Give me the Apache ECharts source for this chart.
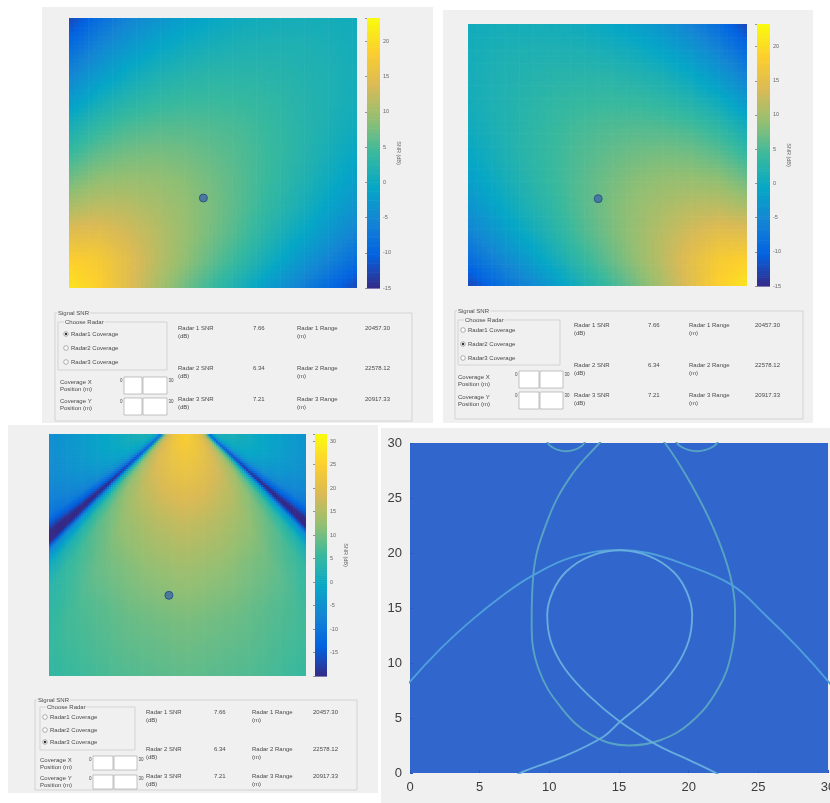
<!DOCTYPE html>
<html>
<head>
<meta charset="utf-8">
<title>Radar SNR coverage</title>
<script src="https://cdn.jsdelivr.net/npm/echarts/dist/echarts.min.js"></script>
<style>
  html, body { margin: 0; padding: 0; background: #ffffff; }
  #chart { width: 830px; height: 803px; }
</style>
</head>
<body>
<div id="chart"></div>
<script>
// ---------- data ----------
// grid node positions (m), shared by x (left to right) and y (rows listed from 30 m down to 0 m)
const nodeCoords = [0, 3, 6, 9, 12, 15, 18, 21, 24, 27, 30];

// Radar 1 coverage, SNR in dB at each node (top row first)
const snrRadar1 = [
  [-12.7, -8.8, -5.8, -3.5, -1.8, -0.6, 0.3, 0.7, 0.9, 0.8, 0.4],
  [-9.3, -5.7, -3.0, -1.1, 0.3, 1.1, 1.6, 1.8, 1.7, 1.4, 0.8],
  [-5.9, -2.7, -0.3, 1.4, 2.2, 2.8, 2.8, 2.6, 2.2, 1.7, 0.9],
  [-2.6, 0.4, 2.3, 3.4, 4.0, 4.1, 3.9, 3.4, 2.6, 1.8, 0.7],
  [1.0, 3.5, 5.0, 5.6, 5.7, 5.4, 4.9, 3.9, 2.8, 1.6, 0.3],
  [4.0, 6.2, 7.3, 7.6, 7.2, 6.4, 5.4, 4.1, 2.8, 1.1, -0.6],
  [7.2, 9.0, 9.4, 9.2, 8.5, 7.2, 5.7, 4.0, 2.2, 0.3, -1.8],
  [10.7, 11.8, 11.6, 10.5, 9.2, 7.6, 5.6, 3.4, 1.4, -1.1, -3.5],
  [14.8, 15.0, 13.5, 11.6, 9.4, 7.3, 5.0, 2.3, -0.3, -3.0, -5.8],
  [18.7, 17.8, 15.0, 11.8, 9.0, 6.2, 3.5, 0.4, -2.7, -5.7, -8.8],
  [20.9, 18.7, 14.8, 10.7, 7.2, 4.0, 1.0, -2.6, -5.9, -9.3, -12.7]
];

// Radar 2 coverage, SNR in dB at each node (top row first)
const snrRadar2 = [
  [0.4, 0.8, 0.9, 0.7, 0.3, -0.6, -1.8, -3.5, -5.8, -8.8, -12.7],
  [0.8, 1.4, 1.7, 1.8, 1.6, 1.1, 0.3, -1.1, -3.0, -5.7, -9.3],
  [0.9, 1.7, 2.2, 2.6, 2.8, 2.8, 2.2, 1.4, -0.3, -2.7, -5.9],
  [0.7, 1.8, 2.6, 3.4, 3.9, 4.1, 4.0, 3.4, 2.3, 0.4, -2.6],
  [0.3, 1.6, 2.8, 3.9, 4.9, 5.4, 5.7, 5.6, 5.0, 3.5, 1.0],
  [-0.6, 1.1, 2.8, 4.1, 5.4, 6.4, 7.2, 7.6, 7.3, 6.2, 4.0],
  [-1.8, 0.3, 2.2, 4.0, 5.7, 7.2, 8.5, 9.2, 9.4, 9.0, 7.2],
  [-3.5, -1.1, 1.4, 3.4, 5.6, 7.6, 9.2, 10.5, 11.6, 11.8, 10.7],
  [-5.8, -3.0, -0.3, 2.3, 5.0, 7.3, 9.4, 11.6, 13.5, 15.0, 14.8],
  [-8.8, -5.7, -2.7, 0.4, 3.5, 6.2, 9.0, 11.8, 15.0, 17.8, 18.7],
  [-12.7, -9.3, -5.9, -2.6, 1.0, 4.0, 7.2, 10.7, 14.8, 18.7, 20.9]
];

// Radar 3 coverage, sampled on range rings (m) and beam angles (deg from boresight)
const radar3Position = [15.9, 32.7];
const beamRanges = [2, 8, 14, 20, 26, 32, 38];
const beamAngles = [-90, -75, -62, -55, -51, -48, -45.5, -43, -40, -36, -28, -14, 0, 14, 28, 36, 40, 43, 45.5, 48, 51, 55, 62, 75, 90];
const snrRadar3 = [
  [4.2, 4.7, 4.7, 3.7, 1.6, -4.6, -13.3, 6.8, 15.0, 19.1, 22.2, 24.3, 25.3, 24.3, 22.2, 19.1, 15.0, 6.8, -13.3, -4.6, 1.6, 3.7, 4.7, 4.7, 4.2],
  [0.1, 0.6, 0.6, -0.4, -2.5, -8.7, -17.4, 2.7, 10.9, 15.0, 18.1, 20.2, 21.2, 20.2, 18.1, 15.0, 10.9, 2.7, -17.4, -8.7, -2.5, -0.4, 0.6, 0.6, 0.1],
  [-4.6, -4.0, -4.0, -5.1, -7.1, -13.3, -22.1, -2.0, 6.3, 10.4, 13.5, 15.5, 16.6, 15.5, 13.5, 10.4, 6.3, -2.0, -22.1, -13.3, -7.1, -5.1, -4.0, -4.0, -4.6],
  [-8.2, -7.6, -7.6, -8.7, -10.7, -16.9, -25.7, -5.6, 2.7, 6.8, 9.9, 11.9, 13.0, 11.9, 9.9, 6.8, 2.7, -5.6, -25.7, -16.9, -10.7, -8.7, -7.6, -7.6, -8.2],
  [-10.7, -10.2, -10.2, -11.2, -13.3, -19.5, -28.2, -8.2, 0.1, 4.2, 7.3, 9.4, 10.4, 9.4, 7.3, 4.2, 0.1, -8.2, -28.2, -19.5, -13.3, -11.2, -10.2, -10.2, -10.7],
  [-12.3, -11.8, -11.8, -12.8, -14.9, -21.0, -29.8, -9.7, -1.5, 2.7, 5.8, 7.8, 8.8, 7.8, 5.8, 2.7, -1.5, -9.7, -29.8, -21.0, -14.9, -12.8, -11.8, -11.8, -12.3],
  [-13.8, -13.3, -13.3, -14.3, -16.4, -22.6, -31.3, -11.2, -3.0, 1.1, 4.2, 6.3, 7.3, 6.3, 4.2, 1.1, -3.0, -11.2, -31.3, -22.6, -16.4, -14.3, -13.3, -13.3, -13.8]
];

// colour bar limits (dB) and labelled ticks
const colorRange12 = [-15, 23.3];
const colorTicks12 = [-15, -10, -5, 0, 5, 10, 15, 20];
const colorRange3 = [-20, 31.5];
const colorTicks3 = [-15, -10, -5, 0, 5, 10, 15, 20, 25, 30];

// selected coverage point (m)
const coveragePosition = [14, 10];

// coverage contours (x, y in m)
const contourRadar3 = [[15.9, 32.5], [14.6, 31.3], [13.6, 30.0], [11.6, 27.1], [9.93, 23.15], [8.85, 18.0], [8.73, 13.75], [9.21, 9.52], [10.89, 5.88], [13.04, 3.45], [15.7, 2.5], [18.0, 3.0], [20.2, 4.66], [22.13, 7.7], [23.09, 11.03], [23.33, 14.66], [22.97, 18.0], [21.9, 21.9], [20.2, 26.2], [18.3, 30.0], [17.2, 31.3], [15.9, 32.5]];
const sidelobeLeft = [[9.7, 30.6], [10.1, 29.7], [11.2, 29.25], [12.3, 29.7], [12.7, 30.6]];
const sidelobeRight = [[18.9, 30.6], [19.4, 29.7], [20.6, 29.25], [21.8, 29.7], [22.3, 30.6]];
const contourArch = [[-2, 5.1], [0, 8.3], [2.2, 11.3], [4.43, 13.9], [6.6, 16.1], [8.73, 17.9], [11.6, 19.6], [15.07, 20.27], [17.1, 20.0], [19.5, 19.06], [23.09, 17.1], [25.5, 14.36], [27.9, 11.33], [30.03, 8.3], [32, 5.1]];
const contourLoop = [[23.2, -1], [21.77, 0.12], [19.5, 1.48], [17.71, 2.55], [15.07, 4.66], [12.92, 6.94], [11.1, 9.5], [10.1, 12.0], [9.85, 14.4], [10.25, 16.5], [11.2, 18.3], [12.9, 19.7], [15.07, 20.25], [17.2, 19.7], [18.9, 18.3], [19.85, 16.5], [20.25, 14.4], [20.0, 12.0], [19.0, 9.5], [17.2, 6.94], [15.07, 4.66], [13.88, 3.3], [11.0, 1.48], [8.13, 0.12], [6.6, -1]];

// texts of the control panel
const radioLabels = ['Radar1 Coverage', 'Radar2 Coverage', 'Radar3 Coverage'];
const coverageLabels = [['Coverage X', 'Position (m)'], ['Coverage Y', 'Position (m)']];
const snrLabels = ['Radar 1 SNR', 'Radar 2 SNR', 'Radar 3 SNR'];
const rangeLabels = ['Radar 1 Range', 'Radar 2 Range', 'Radar 3 Range'];
const snrValues = ['7.66', '6.34', '7.21'];
const rangeValues = ['20457.30', '22578.12', '20917.33'];
const axisTicks = [0, 5, 10, 15, 20, 25, 30];

// ---------- colour map ----------
const parulaStops = ['#352a87', '#0363e1', '#1485d4', '#06a7c6', '#38b99e', '#92bf73', '#d9ba56', '#fcce2e', '#f9fb0e'];
const parulaRgb = parulaStops.map(h => [1, 3, 5].map(o => parseInt(h.slice(o, o + 2), 16)));
function snrColor(v, range) {
  let t = (v - range[0]) / (range[1] - range[0]);
  t = Math.min(1, Math.max(0, t));
  const s = t * (parulaRgb.length - 1);
  const k = Math.min(parulaRgb.length - 2, Math.floor(s));
  const f = s - k;
  const a = parulaRgb[k], b = parulaRgb[k + 1];
  return 'rgb(' + Math.round(a[0] + (b[0] - a[0]) * f) + ',' + Math.round(a[1] + (b[1] - a[1]) * f) + ',' + Math.round(a[2] + (b[2] - a[2]) * f) + ')';
}

// ---------- renderers ----------
const SUB = 6;
function nodeGridItems() {
  const items = [];
  const last = nodeCoords.length - 1;
  for (let j = 0; j < last; j++) {
    for (let i = 0; i < last; i++) {
      items.push([(nodeCoords[i] + nodeCoords[i + 1]) / 2, (nodeCoords[last - j] + nodeCoords[last - j - 1]) / 2, i, j]);
    }
  }
  return items;
}
function nodeGridRenderer(rows, range) {
  const last = nodeCoords.length - 1;
  return function (params, api) {
    const i = api.value(2), j = api.value(3);
    const x0 = nodeCoords[i], x1 = nodeCoords[i + 1];
    const yT = nodeCoords[last - j], yB = nodeCoords[last - j - 1];
    const vTL = rows[j][i], vTR = rows[j][i + 1], vBL = rows[j + 1][i], vBR = rows[j + 1][i + 1];
    const children = [];
    for (let a = 0; a < SUB; a++) {
      for (let b = 0; b < SUB; b++) {
        const u = (a + 0.5) / SUB, w = (b + 0.5) / SUB;
        const v = (1 - u) * (1 - w) * vTL + u * (1 - w) * vTR + (1 - u) * w * vBL + u * w * vBR;
        const p0 = api.coord([x0 + (x1 - x0) * a / SUB, yT + (yB - yT) * b / SUB]);
        const p1 = api.coord([x0 + (x1 - x0) * (a + 1) / SUB, yT + (yB - yT) * (b + 1) / SUB]);
        children.push({
          type: 'rect',
          shape: { x: p0[0], y: p0[1], width: p1[0] - p0[0] + 0.6, height: p1[1] - p0[1] + 0.6 },
          style: { fill: snrColor(v, range) }
        });
      }
    }
    const cs = params.coordSys;
    return { type: 'group', children, clipPath: { type: 'rect', shape: { x: cs.x, y: cs.y, width: cs.width, height: cs.height } } };
  };
}

// radar 3 map: raster cells, each coloured from the range/angle table
const BEAM_STEP = 0.25;
function beamCellItems() {
  const items = [];
  const n = Math.round(30 / BEAM_STEP);
  for (let iy = 0; iy < n; iy++) {
    for (let ix = 0; ix < n; ix++) items.push([(ix + 0.5) * BEAM_STEP, (iy + 0.5) * BEAM_STEP]);
  }
  return items;
}
function bracket(list, v) {
  let k = 0;
  while (k < list.length - 2 && v > list[k + 1]) k++;
  const f = Math.min(1, Math.max(0, (v - list[k]) / (list[k + 1] - list[k])));
  return [k, f];
}
function beamValue(x, y) {
  const dx = x - radar3Position[0], dy = radar3Position[1] - y;
  const r = Math.sqrt(dx * dx + dy * dy);
  const deg = Math.atan2(dx, dy) * 180 / Math.PI;
  const [k, u] = bracket(beamRanges, r);
  const [a, w] = bracket(beamAngles, deg);
  return (1 - u) * (1 - w) * snrRadar3[k][a] + (1 - u) * w * snrRadar3[k][a + 1] + u * (1 - w) * snrRadar3[k + 1][a] + u * w * snrRadar3[k + 1][a + 1];
}
function beamRenderer(params, api) {
  const x = api.value(0), y = api.value(1), h = BEAM_STEP / 2;
  const p0 = api.coord([x - h, y + h]), p1 = api.coord([x + h, y - h]);
  return {
    type: 'rect',
    shape: { x: p0[0], y: p0[1], width: p1[0] - p0[0] + 0.6, height: p1[1] - p0[1] + 0.6 },
    style: { fill: snrColor(beamValue(x, y), colorRange3) }
  };
}

function colorBarRenderer(range) {
  return function (params, api) {
    const n = 120, children = [];
    for (let s = 0; s < n; s++) {
      const va = range[0] + (range[1] - range[0]) * s / n;
      const vb = range[0] + (range[1] - range[0]) * (s + 1) / n;
      const pa = api.coord([0, va]), pb = api.coord([1, vb]);
      children.push({
        type: 'rect',
        shape: { x: pa[0], y: pb[1], width: pb[0] - pa[0], height: pa[1] - pb[1] + 0.6 },
        style: { fill: snrColor((va + vb) / 2, range) }
      });
    }
    return { type: 'group', children };
  };
}

// ---------- layout ----------
const FONT = '"Liberation Sans", Arial, sans-serif';
const mapGrids = [
  { left: 69, top: 18, width: 288, height: 270 },
  { left: 468, top: 24, width: 279, height: 262 },
  { left: 49, top: 434, width: 257, height: 242 }
];
const barGrids = [
  { left: 367, top: 18, width: 13, height: 270 },
  { left: 757, top: 24, width: 13, height: 262 },
  { left: 315, top: 434, width: 12, height: 242 }
];
const plotGrid = { left: 410, top: 443, width: 418, height: 330, show: true, backgroundColor: '#3166cc', borderWidth: 0 };

const panels = [
  { bg: [42, 7, 391, 416], frame: [55, 313, 357, 108], chooser: [58, 322, 109, 48], radioX: 66, radioYs: [334, 348, 362],
    coverX: 60, coverYs: [382, 401], spin: { x: 124, w: 43, div: 142, ys: [377, 398], h: 17 },
    table: { lx: 178, vx: 253, rlx: 297, rvx: 365, ys: [328, 368, 399] }, selected: 0 },
  { bg: [443, 10, 370, 413], frame: [455, 311, 348, 108], chooser: [458, 320, 102, 45], radioX: 463, radioYs: [330, 344, 358],
    coverX: 458, coverYs: [377, 397], spin: { x: 519, w: 44, div: 539, ys: [371, 392], h: 17 },
    table: { lx: 574, vx: 648, rlx: 689, rvx: 755, ys: [325, 365, 395] }, selected: 1 },
  { bg: [8, 425, 370, 368], frame: [35, 700, 322, 90], chooser: [40, 707, 95, 43], radioX: 45, radioYs: [717, 730, 742],
    coverX: 40, coverYs: [760, 778], spin: { x: 93, w: 44, div: 113, ys: [756, 775], h: 14 },
    table: { lx: 146, vx: 214, rlx: 252, rvx: 313, ys: [712, 749, 776] }, selected: 2 }
];

function panelElements(L) {
  const els = [];
  const text = (x, y, s, extra) => els.push({
    type: 'text', x, y, z: 3, silent: true,
    style: Object.assign({ text: s, fill: '#4a4a4a', fontSize: 6, fontFamily: FONT, align: 'left', verticalAlign: 'middle' }, extra || {})
  });
  const rect = (r, style, z) => els.push({ type: 'rect', z, silent: true, shape: { x: r[0], y: r[1], width: r[2], height: r[3] }, style });
  rect(L.bg, { fill: '#f0f0f0' }, -10);
  rect(L.frame, { fill: 'none', stroke: '#d3d3d3', lineWidth: 1 }, 1);
  text(L.frame[0] + 2, L.frame[1], 'Signal SNR', { backgroundColor: '#f0f0f0', padding: [0, 1] });
  rect(L.chooser, { fill: 'none', stroke: '#d3d3d3', lineWidth: 1 }, 1);
  text(L.chooser[0] + 6, L.chooser[1], 'Choose Radar', { backgroundColor: '#f0f0f0', padding: [0, 1] });
  radioLabels.forEach((lab, k) => {
    els.push({ type: 'circle', z: 3, silent: true, shape: { cx: L.radioX, cy: L.radioYs[k], r: 2.3 }, style: { fill: '#ffffff', stroke: '#8c8c8c', lineWidth: 0.7 } });
    if (k === L.selected) {
      els.push({ type: 'circle', z: 4, silent: true, shape: { cx: L.radioX, cy: L.radioYs[k], r: 1.2 }, style: { fill: '#303030' } });
    }
    text(L.radioX + 5, L.radioYs[k], lab);
  });
  coverageLabels.forEach((lines, k) => {
    text(L.coverX, L.coverYs[k], lines[0]);
    text(L.coverX, L.coverYs[k] + 7.5, lines[1]);
    const s = L.spin, y = s.ys[k];
    rect([s.x, y, s.div - s.x, s.h], { fill: '#ffffff', stroke: '#a9a9a9', lineWidth: 0.7 }, 2);
    rect([s.div + 1, y, s.x + s.w - s.div - 1, s.h], { fill: '#ffffff', stroke: '#a9a9a9', lineWidth: 0.7 }, 2);
    text(s.x - 1.5, y + 4, '0', { align: 'right', fontSize: 4.5 });
    text(s.x + s.w + 1.5, y + 4, '30', { fontSize: 4.5 });
  });
  snrLabels.forEach((lab, k) => {
    const y = L.table.ys[k];
    text(L.table.lx, y, lab);
    text(L.table.lx, y + 8, '(dB)');
    text(L.table.vx, y, snrValues[k]);
    text(L.table.rlx, y, rangeLabels[k]);
    text(L.table.rlx, y + 8, '(m)');
    text(L.table.rvx, y, rangeValues[k]);
  });
  return els;
}

const graphicElements = [];
panels.forEach(p => graphicElements.push(...panelElements(p)));
graphicElements.push({ type: 'rect', z: -10, silent: true, shape: { x: 381, y: 428, width: 449, height: 375 }, style: { fill: '#f0f0f0' } });

// ---------- axes ----------
const grids = [].concat(mapGrids, barGrids, [plotGrid]).map(g => Object.assign({ outerBoundsMode: 'none', containLabel: false }, g));
const xAxes = [], yAxes = [];
mapGrids.forEach((g, n) => {
  xAxes.push({ gridIndex: n, type: 'value', min: 0, max: 30, show: false });
  yAxes.push({ gridIndex: n, type: 'value', min: 0, max: 30, show: false });
});
const barRanges = [colorRange12, colorRange12, colorRange3];
const barTicks = [colorTicks12, colorTicks12, colorTicks3];
barGrids.forEach((g, n) => {
  const gi = mapGrids.length + n;
  xAxes.push({ gridIndex: gi, type: 'value', min: 0, max: 1, show: false });
  yAxes.push({
    gridIndex: gi, type: 'value', min: barRanges[n][0], max: barRanges[n][1], interval: 5, position: 'right',
    axisLine: { show: false }, splitLine: { show: false },
    axisTick: { show: true, inside: true, length: 2, lineStyle: { color: '#555555', width: 0.6 } },
    axisLabel: { fontSize: 5.5, color: '#666666', fontFamily: FONT, margin: 3, formatter: v => (barTicks[n].indexOf(v) >= 0 ? String(v) : '') },
    name: 'SNR (dB)', nameLocation: 'middle', nameGap: 16, nameRotate: -90,
    nameTextStyle: { fontSize: 5.5, color: '#666666', fontFamily: FONT }
  });
});
const plotIndex = grids.length - 1;
[xAxes, yAxes].forEach(list => list.push({
  gridIndex: plotIndex, type: 'value', min: axisTicks[0], max: axisTicks[axisTicks.length - 1], interval: 5,
  axisLine: { show: false }, splitLine: { show: false },
  axisTick: { show: true, inside: true, length: 3, lineStyle: { color: '#2b58b8' } },
  axisLabel: { fontSize: 13, color: '#3c3c3c', fontFamily: FONT, margin: 8 }
}));

// ---------- series ----------
const series = [];
const mapRows = [snrRadar1, snrRadar2];
[0, 1].forEach(n => {
  series.push({ type: 'custom', silent: true, xAxisIndex: n, yAxisIndex: n, renderItem: nodeGridRenderer(mapRows[n], colorRange12), data: nodeGridItems(), encode: { x: 0, y: 1 }, clip: true });
});
series.push({ type: 'custom', silent: true, xAxisIndex: 2, yAxisIndex: 2, renderItem: beamRenderer, data: beamCellItems(), encode: { x: 0, y: 1 }, clip: true, progressive: 0 });
[0, 1, 2].forEach(n => {
  const gi = mapGrids.length + n;
  series.push({ type: 'custom', silent: true, xAxisIndex: gi, yAxisIndex: gi, renderItem: colorBarRenderer(barRanges[n]), data: [[0.5, barRanges[n][0]]], encode: { x: 0, y: 1 } });
  series.push({ type: 'scatter', silent: true, xAxisIndex: n, yAxisIndex: n, data: [coveragePosition], symbolSize: 8, z: 5,
    itemStyle: { color: '#3c69a6', borderColor: '#24467f', borderWidth: 1 } });
});
const contourStyle = [
  { data: contourRadar3, color: '#58a3c4' },
  { data: sidelobeLeft, color: '#58a3c4' },
  { data: sidelobeRight, color: '#58a3c4' },
  { data: contourArch, color: '#4e9fdc' },
  { data: contourLoop, color: '#66acdf' }
];
contourStyle.forEach(c => series.push({
  type: 'line', silent: true, xAxisIndex: plotIndex, yAxisIndex: plotIndex, data: c.data, smooth: 0.4,
  showSymbol: false, symbol: 'none', clip: true, lineStyle: { color: c.color, width: 1.9 }
}));

const chart = echarts.init(document.getElementById('chart'), null, { renderer: 'canvas' });
chart.setOption({
  animation: false,
  backgroundColor: '#ffffff',
  grid: grids,
  xAxis: xAxes,
  yAxis: yAxes,
  graphic: { elements: graphicElements },
  series
});
</script>
</body>
</html>
